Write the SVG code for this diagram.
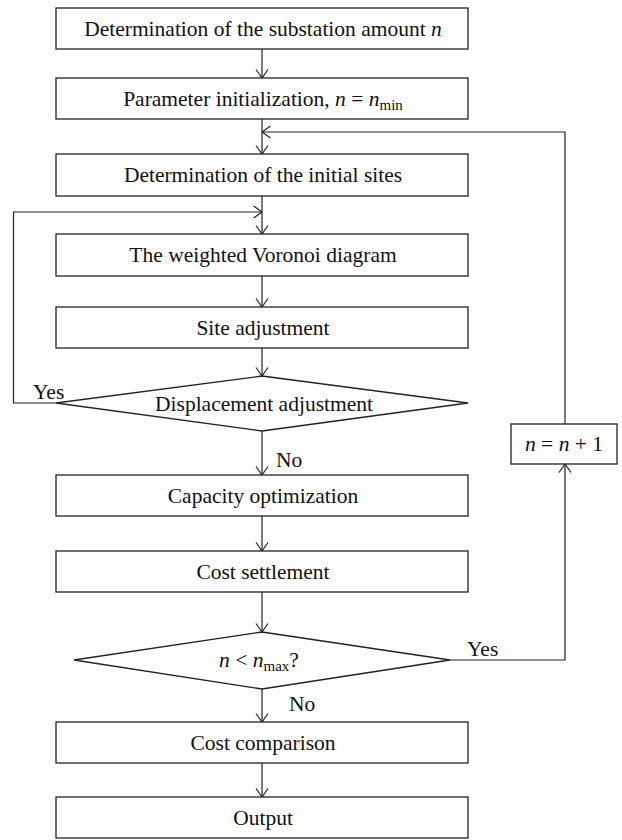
<svg xmlns="http://www.w3.org/2000/svg" width="622" height="840" viewBox="0 0 622 840">
<style>
.box{fill:#fff;stroke:#222;stroke-width:1.3}
.ln{fill:none;stroke:#222;stroke-width:1.2}
text{font-family:"Liberation Serif","Times New Roman",serif;font-size:21.5px;fill:#111}
.c{text-anchor:middle}
.i{font-style:italic}
.sub{font-size:15px}
</style>
<defs>
<marker id="ah" viewBox="0 0 10 14" refX="9.5" refY="7" markerWidth="10" markerHeight="14" markerUnits="userSpaceOnUse" orient="auto">
<path d="M1,1 L9.5,7 L1,13" fill="none" stroke="#222" stroke-width="1.2"/>
</marker>
</defs>
<rect width="622" height="840" fill="#fff"/>
<g id="connectors">
<line class="ln" x1="262" y1="49" x2="262" y2="78" marker-end="url(#ah)"/>
<line class="ln" x1="262" y1="119" x2="262" y2="154" marker-end="url(#ah)"/>
<line class="ln" x1="262" y1="196" x2="262" y2="234" marker-end="url(#ah)"/>
<line class="ln" x1="262" y1="276" x2="262" y2="307" marker-end="url(#ah)"/>
<line class="ln" x1="262" y1="348" x2="262" y2="376" marker-end="url(#ah)"/>
<line class="ln" x1="262" y1="431" x2="262" y2="475" marker-end="url(#ah)"/>
<line class="ln" x1="262" y1="516" x2="262" y2="551" marker-end="url(#ah)"/>
<line class="ln" x1="262" y1="592" x2="262" y2="632" marker-end="url(#ah)"/>
<line class="ln" x1="262" y1="689" x2="262" y2="722" marker-end="url(#ah)"/>
<line class="ln" x1="262" y1="763" x2="262" y2="797" marker-end="url(#ah)"/>
<polyline class="ln" points="56,403 13.5,403 13.5,212 262,212" marker-end="url(#ah)"/>
<polyline class="ln" points="450,660 565,660 565,464" marker-end="url(#ah)"/>
<polyline class="ln" points="565,424 565,132 262,132" marker-end="url(#ah)"/>
<text x="33" y="399">Yes</text>
<text x="276" y="467">No</text>
<text x="467" y="656">Yes</text>
<text x="289" y="711">No</text>
</g>
<g id="n1"><rect class="box" x="56" y="8" width="412" height="41"/><text class="c" x="263" y="36">Determination of the substation amount <tspan class="i">n</tspan></text></g>
<g id="n2"><rect class="box" x="56" y="78" width="412" height="41"/><text class="c" x="263" y="106">Parameter initialization, <tspan class="i">n</tspan> = <tspan class="i">n</tspan><tspan class="sub" dy="4">min</tspan></text></g>
<g id="n3"><rect class="box" x="56" y="154" width="412" height="42"/><text class="c" x="263" y="182">Determination of the initial sites</text></g>
<g id="n4"><rect class="box" x="56" y="234" width="412" height="42"/><text class="c" x="263" y="262">The weighted Voronoi diagram</text></g>
<g id="n5"><rect class="box" x="56" y="307" width="412" height="41"/><text class="c" x="263" y="335">Site adjustment</text></g>
<g id="n6"><polygon class="box" points="262,376 468,403 262,431 56,403"/><text class="c" x="264" y="411">Displacement adjustment</text></g>
<g id="n7"><rect class="box" x="56" y="475" width="412" height="41"/><text class="c" x="263" y="503">Capacity optimization</text></g>
<g id="n8"><rect class="box" x="56" y="551" width="412" height="41"/><text class="c" x="263" y="579">Cost settlement</text></g>
<g id="n9"><polygon class="box" points="262,632 450,660 262,689 74,660"/><text class="c" x="259" y="667"><tspan class="i">n</tspan> &lt; <tspan class="i">n</tspan><tspan class="sub" dy="4">max</tspan><tspan dy="-4">?</tspan></text></g>
<g id="n10"><rect class="box" x="56" y="722" width="412" height="41"/><text class="c" x="263" y="750">Cost comparison</text></g>
<g id="n11"><rect class="box" x="56" y="797" width="412" height="41"/><text class="c" x="263" y="825">Output</text></g>
<g id="n12"><rect class="box" x="511" y="424" width="106" height="40"/><text class="c" x="564" y="451"><tspan class="i">n</tspan> = <tspan class="i">n</tspan> + 1</text></g>
</svg>
